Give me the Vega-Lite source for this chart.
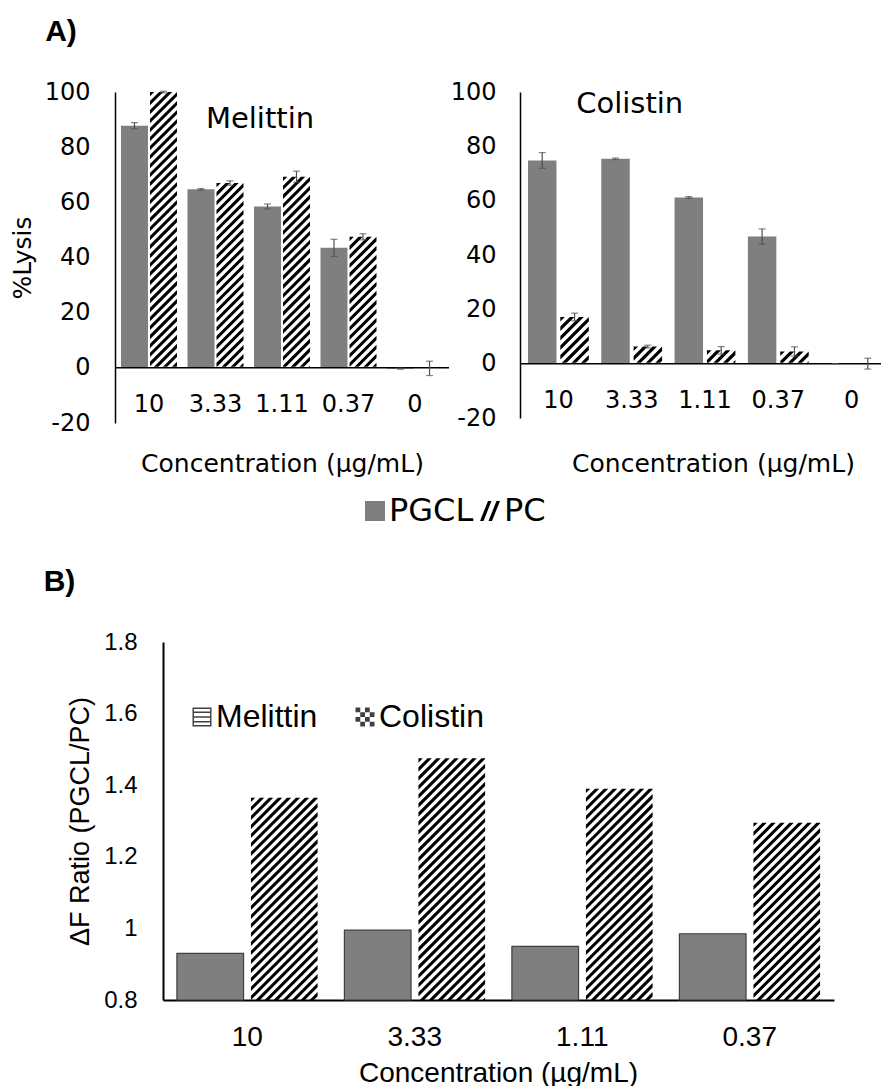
{
  "$schema": "https://vega.github.io/schema/vega-lite/v6.json",
  "padding": {"left": 10, "top": 17, "right": 0, "bottom": 0},
  "datasets": {
    "mel": [
      {"conc": "10", "series": "PGCL", "value": 87.8, "err": 1.1},
      {"conc": "10", "series": "PC", "value": 100, "err": 0.3},
      {"conc": "3.33", "series": "PGCL", "value": 64.7, "err": 0.3},
      {"conc": "3.33", "series": "PC", "value": 67.0, "err": 0.8},
      {"conc": "1.11", "series": "PGCL", "value": 58.5, "err": 0.9},
      {"conc": "1.11", "series": "PC", "value": 69.3, "err": 2.0},
      {"conc": "0.37", "series": "PGCL", "value": 43.5, "err": 3.1},
      {"conc": "0.37", "series": "PC", "value": 47.5, "err": 1.1},
      {"conc": "0", "series": "PGCL", "value": -0.3, "err": 0.2},
      {"conc": "0", "series": "PC", "value": -0.2, "err": 2.6}
    ],
    "col": [
      {"conc": "10", "series": "PGCL", "value": 74.8, "err": 2.9},
      {"conc": "10", "series": "PC", "value": 17.2, "err": 1.4},
      {"conc": "3.33", "series": "PGCL", "value": 75.4, "err": 0.3},
      {"conc": "3.33", "series": "PC", "value": 6.3, "err": 0.5},
      {"conc": "1.11", "series": "PGCL", "value": 61.2, "err": 0.3},
      {"conc": "1.11", "series": "PC", "value": 4.9, "err": 1.4},
      {"conc": "0.37", "series": "PGCL", "value": 46.8, "err": 2.8},
      {"conc": "0.37", "series": "PC", "value": 4.5, "err": 1.7},
      {"conc": "0", "series": "PGCL", "value": 0, "err": 0},
      {"conc": "0", "series": "PC", "value": 0, "err": 2.0}
    ],
    "ratio": [
      {"conc": "10", "drug": "Melittin", "value": 0.93},
      {"conc": "10", "drug": "Colistin", "value": 1.365},
      {"conc": "3.33", "drug": "Melittin", "value": 0.995},
      {"conc": "3.33", "drug": "Colistin", "value": 1.475},
      {"conc": "1.11", "drug": "Melittin", "value": 0.95},
      {"conc": "1.11", "drug": "Colistin", "value": 1.39},
      {"conc": "0.37", "drug": "Melittin", "value": 0.985},
      {"conc": "0.37", "drug": "Colistin", "value": 1.295}
    ]
  },
  "spacing": 40,
  "resolve": {"scale": {"xOffset": "independent", "fill": "independent", "shape": "independent"}, "legend": {"fill": "independent", "shape": "independent"}},
  "vconcat": [
    {
      "title": {"text": "A)", "anchor": "start", "dx": 35, "font": "Liberation Sans", "fontSize": 30, "fontWeight": "bold", "color": "black", "offset": 3, "baseline": "bottom"},
      "spacing": 0,
      "resolve": {"scale": {"xOffset": "independent", "fill": "shared", "shape": "shared"}, "legend": {"fill": "shared", "shape": "shared"}},
      "hconcat": [
        {
          "width": 334,
          "height": 331,
          "layer": [
            {
              "data": {"name": "mel"},
              "transform": [{"filter": "datum.series === 'PC'"}],
              "mark": {"type": "point", "shape": "M-1,0L-0.68,0L-1,0.32Z M-1,0.67L-0.33,0L-0.01,0L-1,0.99Z M-1,1.33L0.33,0L0.65,0L-1,1.65Z M-1,2L1,0L1,0.32L-1,2.32Z M-1,2.67L1,0.67L1,0.99L-1,2.99Z M-1,3.33L1,1.33L1,1.65L-1,3.65Z M-1,4L1,2L1,2.32L-1,4.32Z M-1,4.67L1,2.67L1,2.99L-1,4.99Z M-1,5.33L1,3.33L1,3.65L-1,5.65Z M-1,6L1,4L1,4.32L-1,6.32Z M-1,6.67L1,4.67L1,4.99L-1,6.99Z M-1,7.33L1,5.33L1,5.65L-1,7.65Z M-1,8L1,6L1,6.32L-1,8.32Z M-1,8.67L1,6.67L1,6.99L-1,8.99Z M-1,9.33L1,7.33L1,7.65L-1,9.65Z M-1,10L1,8L1,8.32L-1,10.32Z M-1,10.67L1,8.67L1,8.99L-1,10.99Z M-1,11.33L1,9.33L1,9.65L-1,11.65Z M-1,12L1,10L1,10.32L-1,12.32Z M-1,12.67L1,10.67L1,10.99L-1,12.99Z M-1,13.33L1,11.33L1,11.65L-1,13.65Z M-1,14L1,12L1,12.32L-1,14.32Z M-1,14.67L1,12.67L1,12.99L-1,14.99Z M-1,15.33L1,13.33L1,13.65L-1,15.65Z M-1,16L1,14L1,14.32L-1,16.32Z M-1,16.67L1,14.67L1,14.99L-1,16.99Z M-1,17.33L1,15.33L1,15.65L-1,17.65Z M-1,18L1,16L1,16.32L-1,18.32Z M-1,18.67L1,16.67L1,16.99L-1,18.99Z M-1,19.33L1,17.33L1,17.65L-1,19.65Z M-1,20L1,18L1,18.32L-1,20.32Z M-1,20.67L1,18.67L1,18.99L-1,20.99Z M-1,21.33L1,19.33L1,19.65L-1,21.65Z M-1,22L1,20L1,20.32L-1,22.32Z M-1,22.67L1,20.67L1,20.99L-1,22.99Z", "filled": true, "color": "black", "opacity": 1, "size": 728, "clip": true},
              "encoding": {
                "x": {"field": "conc", "type": "nominal", "sort": null, "scale": {"domain": ["10", "3.33", "1.11", "0.37", "0"], "paddingInner": 0.158, "paddingOuter": 0.09}, "axis": {"title": "Concentration (µg/mL)", "titleFont": "DejaVu Sans", "titleFontSize": 25, "titleY": 40, "titleBaseline": "middle", "labelFont": "DejaVu Sans", "labelFontSize": 24, "labelPadding": -31, "labelAngle": 0, "domain": false, "zindex": 1}},
                "xOffset": {"field": "series", "type": "nominal", "scale": {"domain": ["PGCL", "PC"], "paddingInner": 0.07, "paddingOuter": 0}},
                "y": {"field": "value", "type": "quantitative", "title": "%Lysis", "scale": {"domain": [-20, 100], "nice": false}, "axis": {"title": "%Lysis", "titleFont": "DejaVu Sans", "titleFontSize": 25, "titlePadding": 9, "labelFont": "DejaVu Sans", "labelFontSize": 24, "labelPadding": 25, "values": [-20, 0, 20, 40, 60, 80, 100], "domainWidth": 1.5}}
              }
            },
            {
              "data": {"name": "mel"},
              "transform": [{"filter": "datum.series === 'PC'"}],
              "mark": {"type": "bar", "fill": "white", "stroke": "white", "strokeWidth": 2},
              "encoding": {
                "x": {"field": "conc", "type": "nominal", "sort": null, "scale": {"domain": ["10", "3.33", "1.11", "0.37", "0"], "paddingInner": 0.158, "paddingOuter": 0.09}},
                "xOffset": {"field": "series", "type": "nominal", "scale": {"domain": ["PGCL", "PC"], "paddingInner": 0.07, "paddingOuter": 0}},
                "y": {"datum": 0},
                "y2": {"datum": -20}
              }
            },
            {
              "data": {"name": "mel"},
              "transform": [{"filter": "datum.series === 'PGCL'"}],
              "mark": {"type": "bar", "fill": "#7f7f7f"},
              "encoding": {
                "x": {"field": "conc", "type": "nominal", "sort": null, "scale": {"domain": ["10", "3.33", "1.11", "0.37", "0"], "paddingInner": 0.158, "paddingOuter": 0.09}},
                "xOffset": {"field": "series", "type": "nominal", "scale": {"domain": ["PGCL", "PC"], "paddingInner": 0.07, "paddingOuter": 0}},
                "y": {"field": "value", "type": "quantitative", "title": "%Lysis", "scale": {"domain": [-20, 100], "nice": false}}
              }
            },
            {
              "data": {"values": [{}]},
              "mark": {"type": "rule", "color": "black", "strokeWidth": 1.5},
              "encoding": {"y": {"datum": 0}}
            },
            {
              "data": {"name": "mel"},
              "mark": {"type": "errorbar", "ticks": {"size": 7}, "color": "#505050", "thickness": 1.2},
              "encoding": {
                "x": {"field": "conc", "type": "nominal", "sort": null, "scale": {"domain": ["10", "3.33", "1.11", "0.37", "0"], "paddingInner": 0.158, "paddingOuter": 0.09}},
                "xOffset": {"field": "series", "type": "nominal", "scale": {"domain": ["PGCL", "PC"], "paddingInner": 0.07, "paddingOuter": 0}},
                "y": {"field": "value", "type": "quantitative", "title": "%Lysis", "scale": {"domain": [-20, 100], "nice": false}},
                "yError": {"field": "err"}
              }
            },
            {
              "data": {"values": [{"label": "Melittin"}]},
              "mark": {"type": "text", "font": "DejaVu Sans", "fontSize": 29, "dx": -22, "baseline": "middle", "color": "black"},
              "encoding": {"x": {"datum": "1.11"}, "y": {"datum": 90.2}, "text": {"field": "label"}}
            },
            {
              "data": {"name": "mel"},
              "mark": {"type": "point", "filled": true, "opacity": 0},
              "encoding": {
                "x": {"field": "conc", "type": "nominal", "sort": null, "scale": {"domain": ["10", "3.33", "1.11", "0.37", "0"], "paddingInner": 0.158, "paddingOuter": 0.09}},
                "xOffset": {"field": "series", "type": "nominal", "scale": {"domain": ["PGCL", "PC"], "paddingInner": 0.07, "paddingOuter": 0}},
                "y": {"field": "value", "type": "quantitative", "title": "%Lysis", "scale": {"domain": [-20, 100], "nice": false}},
                "fill": {"field": "series", "type": "nominal", "scale": {"domain": ["PGCL", "PC"], "range": ["#7f7f7f", "black"]}, "legend": {"title": null, "orient": "none", "legendX": 244, "legendY": 403, "direction": "horizontal", "labelFont": "DejaVu Sans", "labelFontSize": 32, "labelColor": "black", "symbolSize": 400, "symbolStrokeWidth": 0, "symbolOpacity": 1, "columnPadding": 0, "labelOffset": -2, "padding": 0}},
                "shape": {"field": "series", "type": "nominal", "scale": {"domain": ["PGCL", "PC"], "range": ["square", "M-1,1L-0.2,-1L0.15,-1L-0.65,1Z M-0.15,1L0.65,-1L1,-1L0.2,1Z"]}, "legend": {"title": null, "orient": "none", "legendX": 244, "legendY": 403, "direction": "horizontal", "labelFont": "DejaVu Sans", "labelFontSize": 32, "labelColor": "black", "symbolSize": 400, "symbolStrokeWidth": 0, "symbolOpacity": 1, "columnPadding": 0, "labelOffset": -2, "padding": 0}}
              }
            }
          ]
        },
        {
          "width": 362,
          "height": 326,
          "layer": [
            {
              "data": {"name": "col"},
              "transform": [{"filter": "datum.series === 'PC'"}],
              "mark": {"type": "point", "shape": "M-1,0L-0.68,0L-1,0.32Z M-1,0.67L-0.33,0L-0.01,0L-1,0.99Z M-1,1.33L0.33,0L0.65,0L-1,1.65Z M-1,2L1,0L1,0.32L-1,2.32Z M-1,2.67L1,0.67L1,0.99L-1,2.99Z M-1,3.33L1,1.33L1,1.65L-1,3.65Z M-1,4L1,2L1,2.32L-1,4.32Z M-1,4.67L1,2.67L1,2.99L-1,4.99Z M-1,5.33L1,3.33L1,3.65L-1,5.65Z M-1,6L1,4L1,4.32L-1,6.32Z M-1,6.67L1,4.67L1,4.99L-1,6.99Z M-1,7.33L1,5.33L1,5.65L-1,7.65Z M-1,8L1,6L1,6.32L-1,8.32Z", "filled": true, "color": "black", "opacity": 1, "size": 811, "clip": true},
              "encoding": {
                "x": {"field": "conc", "type": "nominal", "sort": null, "scale": {"domain": ["10", "3.33", "1.11", "0.37", "0"], "paddingInner": 0.17, "paddingOuter": 0.0544, "align": 1}, "axis": {"title": "Concentration (µg/mL)", "titleFont": "DejaVu Sans", "titleFontSize": 25, "titleY": 45, "titleX": 193, "titleBaseline": "middle", "labelFont": "DejaVu Sans", "labelFontSize": 24, "labelPadding": -30, "labelAngle": 0, "domain": false, "zindex": 1}},
                "xOffset": {"field": "series", "type": "nominal", "scale": {"domain": ["PGCL", "PC"], "paddingInner": 0.12, "paddingOuter": 0}},
                "y": {"field": "value", "type": "quantitative", "title": null, "scale": {"domain": [-20, 100], "nice": false}, "axis": {"title": null, "labelFont": "DejaVu Sans", "labelFontSize": 24, "labelPadding": 24, "values": [-20, 0, 20, 40, 60, 80, 100], "domainWidth": 1.5}}
              }
            },
            {
              "data": {"name": "col"},
              "transform": [{"filter": "datum.series === 'PC'"}],
              "mark": {"type": "bar", "fill": "white", "stroke": "white", "strokeWidth": 2},
              "encoding": {
                "x": {"field": "conc", "type": "nominal", "sort": null, "scale": {"domain": ["10", "3.33", "1.11", "0.37", "0"], "paddingInner": 0.17, "paddingOuter": 0.0544, "align": 1}},
                "xOffset": {"field": "series", "type": "nominal", "scale": {"domain": ["PGCL", "PC"], "paddingInner": 0.12, "paddingOuter": 0}},
                "y": {"datum": 0},
                "y2": {"datum": -20}
              }
            },
            {
              "data": {"name": "col"},
              "transform": [{"filter": "datum.series === 'PGCL'"}],
              "mark": {"type": "bar", "fill": "#7f7f7f"},
              "encoding": {
                "x": {"field": "conc", "type": "nominal", "sort": null, "scale": {"domain": ["10", "3.33", "1.11", "0.37", "0"], "paddingInner": 0.17, "paddingOuter": 0.0544, "align": 1}},
                "xOffset": {"field": "series", "type": "nominal", "scale": {"domain": ["PGCL", "PC"], "paddingInner": 0.12, "paddingOuter": 0}},
                "y": {"field": "value", "type": "quantitative", "title": null, "scale": {"domain": [-20, 100], "nice": false}}
              }
            },
            {
              "data": {"values": [{}]},
              "mark": {"type": "rule", "color": "black", "strokeWidth": 1.5},
              "encoding": {"y": {"datum": 0}}
            },
            {
              "data": {"name": "col"},
              "mark": {"type": "errorbar", "ticks": {"size": 7}, "color": "#505050", "thickness": 1.2},
              "encoding": {
                "x": {"field": "conc", "type": "nominal", "sort": null, "scale": {"domain": ["10", "3.33", "1.11", "0.37", "0"], "paddingInner": 0.17, "paddingOuter": 0.0544, "align": 1}},
                "xOffset": {"field": "series", "type": "nominal", "scale": {"domain": ["PGCL", "PC"], "paddingInner": 0.12, "paddingOuter": 0}},
                "y": {"field": "value", "type": "quantitative", "title": null, "scale": {"domain": [-20, 100], "nice": false}},
                "yError": {"field": "err"}
              }
            },
            {
              "data": {"values": [{"label": "Colistin"}]},
              "mark": {"type": "text", "font": "DejaVu Sans", "fontSize": 29, "dx": -2, "baseline": "middle", "color": "black"},
              "encoding": {"x": {"datum": "3.33"}, "y": {"datum": 95.6}, "text": {"field": "label"}}
            }
          ]
        }
      ]
    },
    {
      "title": {"text": "B)", "anchor": "start", "dx": -23, "font": "Liberation Sans", "fontSize": 30, "fontWeight": "bold", "color": "black", "offset": 3, "baseline": "bottom"},
      "width": 719,
      "height": 358,
      "data": {"name": "ratio"},
      "layer": [
        {
          "transform": [{"filter": "datum.drug === 'Melittin'"}],
          "mark": {"type": "bar", "fill": "#7f7f7f", "stroke": "#404040", "strokeWidth": 1.2},
          "encoding": {
            "x": {"field": "conc", "type": "nominal", "sort": null, "scale": {"domain": ["10", "3.33", "1.11", "0.37"], "range": [48, 719], "paddingInner": 0.16, "paddingOuter": 0.083}, "axis": {"title": "Concentration (µg/mL)", "titleFont": "Liberation Sans", "titleFontSize": 28, "titleY": 73, "titleX": 383, "titleBaseline": "middle", "labelFont": "Liberation Sans", "labelFontSize": 28, "labelPadding": 23, "labelAngle": 0, "domainWidth": 2}},
            "xOffset": {"field": "drug", "type": "nominal", "scale": {"domain": ["Melittin", "Colistin"], "paddingInner": 0.1, "paddingOuter": 0}},
            "y": {"field": "value", "type": "quantitative", "title": "ΔF Ratio (PGCL/PC)", "scale": {"domain": [0.8, 1.8], "nice": false, "zero": false}, "axis": {"title": "ΔF Ratio (PGCL/PC)", "titleFont": "Liberation Sans", "titleFontSize": 27, "titlePadding": 9, "labelFont": "Liberation Sans", "labelFontSize": 24, "labelPadding": 26, "offset": -48, "values": [0.8, 1, 1.2, 1.4, 1.6, 1.8], "format": "~g", "domainWidth": 2}},
            "y2": {"datum": 0.8}
          }
        },
        {
          "transform": [{"filter": "datum.drug === 'Colistin'"}],
          "mark": {"type": "point", "shape": "M-1,0L-0.87,0L-1,0.13Z M-1,0.27L-0.73,0L-0.6,0L-1,0.4Z M-1,0.54L-0.46,0L-0.33,0L-1,0.67Z M-1,0.81L-0.19,0L-0.06,0L-1,0.94Z M-1,1.08L0.08,0L0.21,0L-1,1.21Z M-1,1.35L0.35,0L0.48,0L-1,1.48Z M-1,1.62L0.62,0L0.75,0L-1,1.75Z M-1,1.89L0.89,0L1,0L1,0.02L-1,2.02Z M-1,2.16L1,0.16L1,0.29L-1,2.29Z M-1,2.43L1,0.43L1,0.56L-1,2.56Z M-1,2.7L1,0.7L1,0.83L-1,2.83Z M-1,2.97L1,0.97L1,1.1L-1,3.1Z M-1,3.24L1,1.24L1,1.37L-1,3.37Z M-1,3.51L1,1.51L1,1.64L-1,3.64Z M-1,3.78L1,1.78L1,1.91L-1,3.91Z M-1,4.05L1,2.05L1,2.18L-1,4.18Z M-1,4.32L1,2.32L1,2.45L-1,4.45Z M-1,4.59L1,2.59L1,2.72L-1,4.72Z M-1,4.86L1,2.86L1,2.99L-1,4.99Z M-1,5.13L1,3.13L1,3.26L-1,5.26Z M-1,5.4L1,3.4L1,3.53L-1,5.53Z M-1,5.67L1,3.67L1,3.8L-1,5.8Z M-1,5.94L1,3.94L1,4.07L-1,6.07Z M-1,6.21L1,4.21L1,4.34L-1,6.34Z M-1,6.48L1,4.48L1,4.61L-1,6.61Z M-1,6.75L1,4.75L1,4.88L-1,6.88Z M-1,7.02L1,5.02L1,5.15L-1,7.15Z M-1,7.29L1,5.29L1,5.42L-1,7.42Z M-1,7.56L1,5.56L1,5.69L-1,7.69Z M-1,7.83L1,5.83L1,5.96L-1,7.96Z M-1,8.1L1,6.1L1,6.23L-1,8.23Z M-1,8.37L1,6.37L1,6.5L-1,8.5Z M-1,8.64L1,6.64L1,6.77L-1,8.77Z M-1,8.91L1,6.91L1,7.04L-1,9.04Z M-1,9.18L1,7.18L1,7.31L-1,9.31Z M-1,9.45L1,7.45L1,7.58L-1,9.58Z", "filled": true, "color": "black", "opacity": 1, "size": 4442, "clip": true},
          "encoding": {
            "x": {"field": "conc", "type": "nominal", "sort": null, "scale": {"domain": ["10", "3.33", "1.11", "0.37"], "range": [48, 719], "paddingInner": 0.16, "paddingOuter": 0.083}},
            "xOffset": {"field": "drug", "type": "nominal", "scale": {"domain": ["Melittin", "Colistin"], "paddingInner": 0.1, "paddingOuter": 0}},
            "y": {"field": "value", "type": "quantitative", "title": "ΔF Ratio (PGCL/PC)", "scale": {"domain": [0.8, 1.8], "nice": false, "zero": false}}
          }
        },
        {
          "mark": {"type": "point", "filled": true, "opacity": 0},
          "encoding": {
            "x": {"field": "conc", "type": "nominal", "sort": null, "scale": {"domain": ["10", "3.33", "1.11", "0.37"], "range": [48, 719], "paddingInner": 0.16, "paddingOuter": 0.083}},
            "xOffset": {"field": "drug", "type": "nominal", "scale": {"domain": ["Melittin", "Colistin"], "paddingInner": 0.1, "paddingOuter": 0}},
            "y": {"field": "value", "type": "quantitative", "title": "ΔF Ratio (PGCL/PC)", "scale": {"domain": [0.8, 1.8], "nice": false, "zero": false}},
            "fill": {"field": "drug", "type": "nominal", "scale": {"domain": ["Melittin", "Colistin"], "range": ["#404040", "#404040"]}, "legend": {"title": null, "orient": "none", "legendX": 71, "legendY": 59, "direction": "horizontal", "labelFont": "Liberation Sans", "labelFontSize": 32, "labelColor": "black", "symbolSize": 361, "symbolStrokeWidth": 0, "symbolOpacity": 1, "columnPadding": 31, "labelOffset": -2, "padding": 0}},
            "shape": {"field": "drug", "type": "nominal", "scale": {"domain": ["Melittin", "Colistin"], "range": ["M-1,-1H1V1H-1Z M-0.85,-0.85V-0.575H0.85V-0.85Z M-0.85,-0.425V-0.075H0.85V-0.425Z M-0.85,0.075V0.425H0.85V0.075Z M-0.85,0.575V0.85H0.85V0.575Z", "M-1,-1h0.5v0.5h-0.5Z M0,-1h0.5v0.5h-0.5Z M-0.5,-0.5h0.5v0.5h-0.5Z M0.5,-0.5h0.5v0.5h-0.5Z M-1,0h0.5v0.5h-0.5Z M0,0h0.5v0.5h-0.5Z M-0.5,0.5h0.5v0.5h-0.5Z M0.5,0.5h0.5v0.5h-0.5Z"]}, "legend": {"title": null, "orient": "none", "legendX": 71, "legendY": 59, "direction": "horizontal", "labelFont": "Liberation Sans", "labelFontSize": 32, "labelColor": "black", "symbolSize": 361, "symbolStrokeWidth": 0, "symbolOpacity": 1, "columnPadding": 31, "labelOffset": -2, "padding": 0}}
          }
        }
      ]
    }
  ],
  "config": {
    "view": {"stroke": null},
    "font": "DejaVu Sans",
    "locale": {"number": {"decimal": ".", "thousands": ",", "grouping": [3], "currency": ["$", ""], "minus": "-"}},
    "axis": {"grid": false, "ticks": false, "tickSize": 0, "labelColor": "black", "titleColor": "black", "titleFontWeight": "normal", "domainColor": "black"}
  }
}
